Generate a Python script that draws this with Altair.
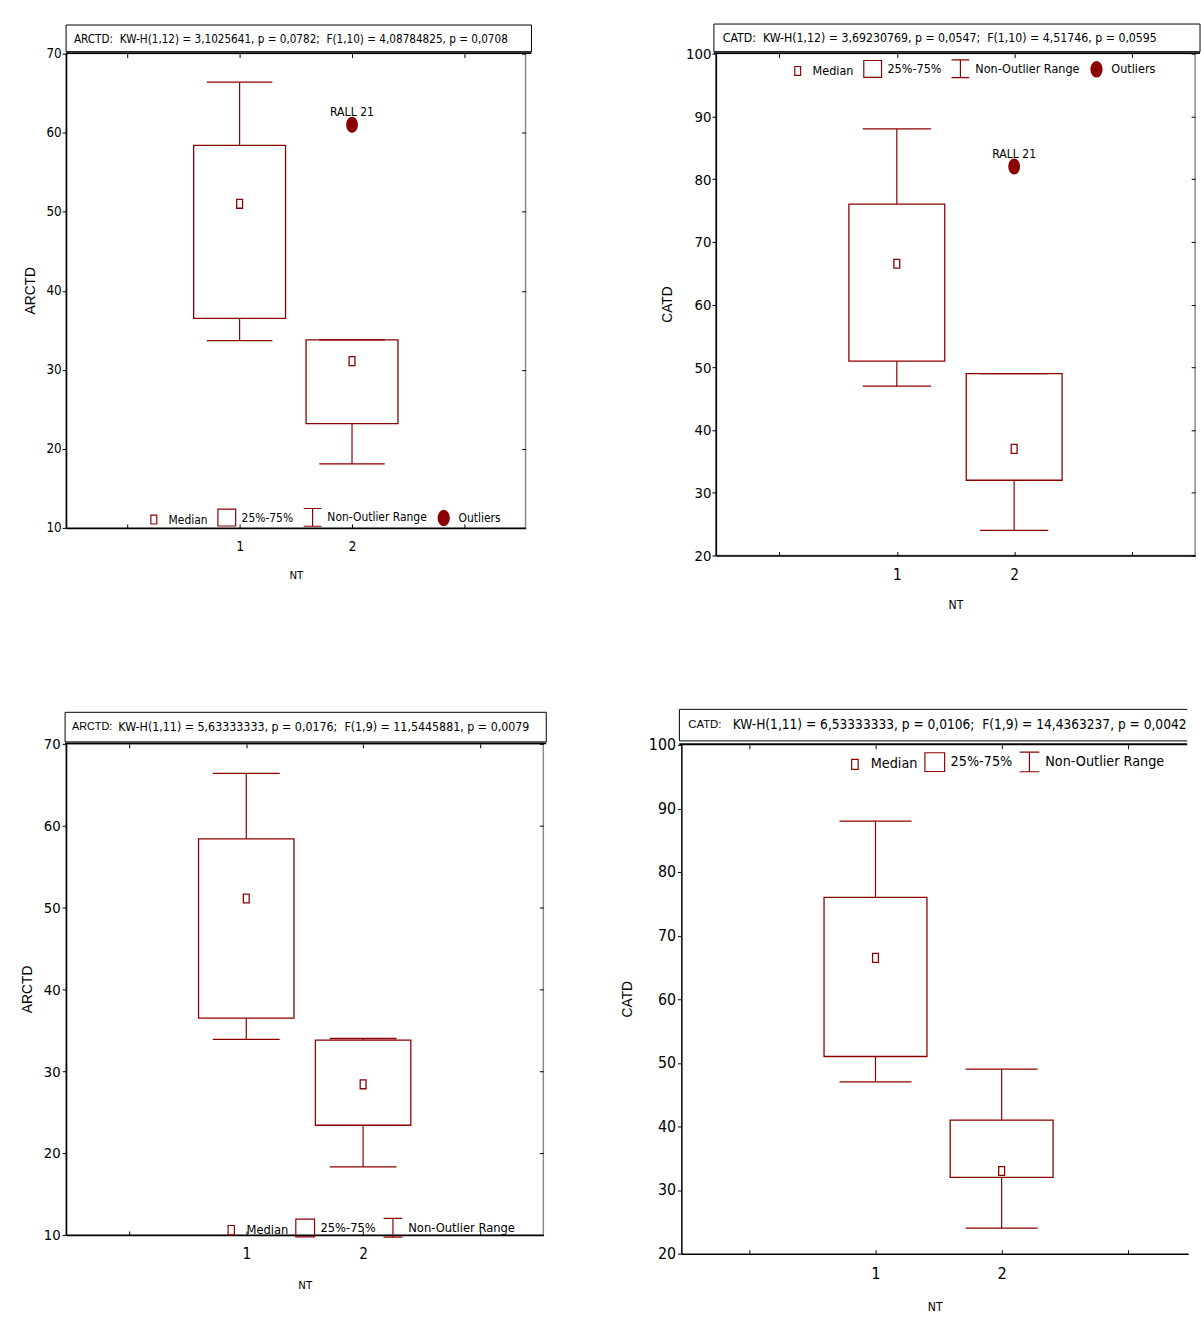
import math

import altair as alt
import pandas as pd

# ---------------------------------------------------------------- data
NT = [1, 2]

# ARCTD by NT, 12 observations (RALL 21 flagged as outlier)
ARCTD12_LOW = [33.7, 18.1]
ARCTD12_Q1 = [36.5, 23.2]
ARCTD12_MED = [51.0, 31.1]
ARCTD12_Q3 = [58.4, 33.8]
ARCTD12_HIGH = [66.4, 33.8]
ARCTD12_OUT_NT = [2]
ARCTD12_OUT_VAL = [61.0]
ARCTD12_OUT_LABEL = ["RALL 21"]

# CATD by NT, 12 observations
CATD12_LOW = [47.0, 24.0]
CATD12_Q1 = [51.0, 32.0]
CATD12_MED = [66.5, 37.0]
CATD12_Q3 = [76.0, 49.0]
CATD12_HIGH = [88.0, 49.0]
CATD12_OUT_NT = [2]
CATD12_OUT_VAL = [82.0]
CATD12_OUT_LABEL = ["RALL 21"]

# ARCTD by NT, 11 observations
ARCTD11_LOW = [33.9, 18.3]
ARCTD11_Q1 = [36.5, 23.4]
ARCTD11_MED = [51.1, 28.4]
ARCTD11_Q3 = [58.4, 33.8]
ARCTD11_HIGH = [66.4, 34.0]

# CATD by NT, 11 observations
CATD11_LOW = [47.0, 24.0]
CATD11_Q1 = [51.0, 32.0]
CATD11_MED = [66.5, 33.0]
CATD11_Q3 = [76.0, 41.0]
CATD11_HIGH = [88.0, 49.0]

NB = "\u00a0"
HEAD_ARCTD12 = f"ARCTD:{NB}{NB}KW-H(1,12) = 3,1025641, p = 0,0782;{NB}{NB}F(1,10) = 4,08784825, p = 0,0708"
HEAD_CATD12 = f"CATD:{NB}{NB}KW-H(1,12) = 3,69230769, p = 0,0547;{NB}{NB}F(1,10) = 4,51746, p = 0,0595"
HEAD_ARCTD11 = ["ARCTD:", f"KW-H(1,11) = 5,63333333, p = 0,0176;{NB}{NB}F(1,9) = 11,5445881, p = 0,0079"]
HEAD_CATD11 = ["CATD:", f"KW-H(1,11) = 6,53333333, p = 0,0106;{NB}{NB}F(1,9) = 14,4363237, p = 0,0042"]

LEGEND_FULL = ["Median", "25%-75%", "Non-Outlier Range", "Outliers"]
LEGEND_SHORT = ["Median", "25%-75%", "Non-Outlier Range"]

# ---------------------------------------------------------------- style
RED = "#8b0000"
NARROW = "Liberation Sans Narrow, Arial Narrow, DejaVu Sans Condensed, sans-serif"
PLAIN = "Liberation Sans, Arial, sans-serif"


def ellipse_path(rx, ry, n=28, rings=1):
    # polygonal ellipse; several shrinking rings give a solid-looking stroked dot
    parts = []
    for r in range(rings):
        k = 1 - r / rings
        pts = [(rx * k * math.sin(2 * math.pi * i / n), -ry * k * math.cos(2 * math.pi * i / n))
               for i in range(n)]
        parts.append("M" + "L".join(f"{x:.3f},{y:.3f}" for x, y in pts) + "Z")
    return "".join(parts)


MEDIAN_PATH = "M-0.33,-0.5H0.33V0.5H-0.33Z"
BOX_PATH = "M-1,-0.95H1V0.95H-1Z"
WHISKER_PATH = "M-1,-1H1M0,-1V1M-1,1H1"
OUTLIER_PATH = ellipse_path(0.66, 0.9)
SYMBOL_PATHS = [MEDIAN_PATH, BOX_PATH, WHISKER_PATH, ellipse_path(0.62, 0.86, 20, 8)]

ONE_ROW = alt.Data(values=[{}])


def deco():
    return alt.Chart(ONE_ROW)


def panel(low, q1, med, q3, high, outliers, ytitle, ydom, yticks, header, legend_items, g):
    w, h = g["w"], g["h"]
    unit = w / (g["xmax"] + 0.5)
    open_right = g.get("open_right", False)
    df = pd.DataFrame({"NT": NT, "low": low, "q1": q1, "med": med, "q3": q3, "high": high})
    xs = alt.Scale(domain=[-0.5, g["xmax"]], nice=False, zero=False)
    ys = alt.Scale(domain=ydom, nice=False, zero=False)
    base = alt.Chart(df)

    ax_bottom = alt.Axis(
        orient="bottom", values=[1, 2], format="d", ticks=False, grid=False,
        domain=True, domainColor="black", domainWidth=1.5,
        labelFont=NARROW, labelFontSize=g["xlab"], labelColor="black", labelPadding=g["xpad"],
        title="NT", titleFont=NARROW, titleFontSize=g["xtit"], titleFontWeight="normal",
        titleColor="black", titlePadding=g["xtpad"],
    )
    ax_left = alt.Axis(
        orient="left", values=yticks, format="d", grid=False,
        domain=True, domainColor="black", domainWidth=1.5,
        ticks=True, tickSize=4, tickColor="black", tickWidth=1,
        labelFont=NARROW, labelFontSize=g["ylab"], labelColor="black", labelPadding=g["ypad"],
        title=None,
    )
    # inward ticks along the top and right frame edges, and upward ticks on the bottom edge
    ax_top_in = alt.Axis(orient="bottom", offset=-h, values=[0, 1, 2, 3], labels=False,
                         domain=False, grid=False, tickSize=4, tickColor="black", title=None)
    ax_right_in = alt.Axis(orient="left", offset=-w, values=yticks, labels=False,
                           domain=False, grid=False, tickSize=4, tickColor="black", title=None)
    ax_bottom_in = alt.Axis(orient="top", offset=-h, values=[0, 1, 2, 3], labels=False,
                            domain=False, grid=False, tickSize=4, tickColor="black", title=None)

    layers = []

    # invisible cell frame that fixes the panel footprint in the page
    layers.append(deco().mark_rect(opacity=0).encode(
        x=alt.value(-g["L"]), x2=alt.value(w + g["R"]),
        y=alt.value(-g["T"]), y2=alt.value(h + g["B"])))

    whisk = base.mark_rule(color=RED, strokeWidth=1.2).encode(
        x=alt.X("NT:Q", scale=xs, axis=ax_top_in),
        y=alt.Y("low:Q", scale=ys, axis=None if open_right else ax_right_in), y2="high:Q")
    box = base.mark_bar(size=0.8 * unit, fill="white", stroke=RED, strokeWidth=1.3).encode(
        x=alt.X("NT:Q", scale=xs, axis=ax_bottom),
        y=alt.Y("q1:Q", scale=ys, axis=ax_left), y2="q3:Q")
    caps = base.transform_fold(["low", "high"], as_=["k", "v"]).mark_tick(
        orient="horizontal", size=g["cap"] * unit, thickness=1.3, color=RED, opacity=1).encode(
        x=alt.X("NT:Q", scale=xs, axis=ax_bottom_in),
        y=alt.Y("v:Q", scale=ys, axis=None))
    meds = base.mark_point(shape=MEDIAN_PATH, size=324, filled=False, stroke=RED,
                           strokeWidth=1.3, opacity=1).encode(
        x=alt.X("NT:Q", scale=xs, axis=None),
        y=alt.Y("med:Q", scale=ys, axis=None))
    layers += [whisk, box, caps, meds]

    # vertical variable name left of the value axis
    layers.append(deco().mark_text(angle=270, align="center", baseline="middle", font=PLAIN,
                                   fontSize=14, color="black").encode(
        x=alt.value(-g["ytx"]), y=alt.value(h / 2), text=alt.value(ytitle)))

    if outliers is not None:
        odf = pd.DataFrame({"NT": outliers[0], "v": outliers[1], "lab": outliers[2]})
        ob = alt.Chart(odf)
        layers.append(ob.mark_point(shape=OUTLIER_PATH, size=324, filled=True, color=RED,
                                    opacity=1).encode(
            x=alt.X("NT:Q", scale=xs, axis=None),
            y=alt.Y("v:Q", scale=ys, axis=None)))
        layers.append(ob.mark_text(font=NARROW, fontSize=g["olab"], baseline="bottom",
                                   dy=-6, color="black").encode(
            x=alt.X("NT:Q", scale=xs, axis=None),
            y=alt.Y("v:Q", scale=ys, axis=None), text="lab:N"))

    # legend: symbols come from a shape scale; the carrier points sit outside the clipped area
    n = len(legend_items)
    ldf = pd.DataFrame({"item": legend_items, "NT": [-10.0] * n, "v": [-1000.0] * n})
    leg = alt.Legend(
        orient="none", legendX=g["lx"], legendY=g["ly"], direction="horizontal", title=None,
        symbolSize=g["ls"] ** 2, symbolStrokeWidth=1.2, symbolOpacity=1,
        labelFont=NARROW, labelFontSize=g["lf"], labelColor="black", labelOffset=5,
        columnPadding=g["lcp"], padding=0, labelLimit=400,
    )
    layers.append(alt.Chart(ldf).mark_point(clip=True, filled=False, stroke=RED,
                                            strokeWidth=1.2, opacity=1).encode(
        x=alt.X("NT:Q", scale=xs, axis=None),
        y=alt.Y("v:Q", scale=ys, axis=None),
        shape=alt.Shape("item:N", scale=alt.Scale(domain=legend_items, range=SYMBOL_PATHS[:n]),
                        legend=leg),
    ))

    # statistics header box above the plot
    hx0, hx1, hy0, hy1 = g["hbox"]
    if open_right:
        layers.append(deco().mark_rect(fill="white").encode(
            x=alt.value(hx0), x2=alt.value(w + hx1), y=alt.value(hy0), y2=alt.value(hy1)))
        layers.append(deco().mark_rule(color="black", strokeWidth=1).encode(
            x=alt.value(hx0), x2=alt.value(w + hx1), y=alt.value(hy0)))
        layers.append(deco().mark_rule(color="black", strokeWidth=1).encode(
            x=alt.value(hx0), y=alt.value(hy0), y2=alt.value(hy1)))
        layers.append(deco().mark_rule(color="black", strokeWidth=1).encode(
            x=alt.value(hx0), x2=alt.value(w + hx1), y=alt.value(hy1)))
    else:
        layers.append(deco().mark_rect(fill="white", stroke="black", strokeWidth=1).encode(
            x=alt.value(hx0), x2=alt.value(w + hx1), y=alt.value(hy0), y2=alt.value(hy1)))
    layers.append(deco().mark_rule(color="black", strokeWidth=2).encode(
        x=alt.value(min(hx0, 0)), x2=alt.value(w + hx1), y=alt.value(-0.5)))
    for txt, tx, size, font in header:
        layers.append(deco().mark_text(align="left", baseline="middle", font=font,
                                       fontSize=size, color="black").encode(
            x=alt.value(tx), y=alt.value(g["hty"]), text=alt.value(txt)))

    props = dict(width=w, height=h)
    if open_right:
        props["view"] = alt.ViewBackground(strokeOpacity=0)
    return alt.layer(*layers).resolve_axis(x="independent", y="independent").properties(**props)


GEO_TL = dict(w=466, h=481, L=52, R=91, T=41, B=128, xmax=3.5, cap=0.57,
              xlab=14, xpad=12, xtit=11.5, xtpad=16, ylab=13.5, ypad=1, ytx=36,
              olab=12.3, lx=79, ly=460, ls=18, lf=12.1, lcp=7,
              hbox=(0, 6, -29, -2), hty=-15)
GEO_TR = dict(w=486, h=509, L=100, R=6, T=44, B=97, xmax=3.5, cap=0.57,
              xlab=15.5, xpad=12, xtit=12.3, xtpad=16, ylab=15, ypad=1, ytx=48,
              olab=12.3, lx=73, ly=5, ls=18, lf=12.7, lcp=7,
              hbox=(-2, 5, -30, -2), hty=-16)
GEO_BL = dict(w=484, h=498, L=66, R=70, T=89, B=82, xmax=3.5, cap=0.56,
              xlab=15.5, xpad=12, xtit=11.5, xtpad=18, ylab=15, ypad=2, ytx=39,
              olab=12.3, lx=157, ly=480, ls=19, lf=13, lcp=4,
              hbox=(-1, 3, -32, -2), hty=-17)
GEO_BR = dict(w=514, h=516, L=66, R=0, T=91, B=62, xmax=3.44, cap=0.56,
              xlab=16.5, xpad=12, xtit=12.3, xtpad=19, ylab=16, ypad=2, ytx=54,
              olab=12.3, lx=165, ly=6, ls=20, lf=14.5, lcp=4,
              hbox=(-2, -1, -36, -4), hty=-20, open_right=True)

tl = panel(ARCTD12_LOW, ARCTD12_Q1, ARCTD12_MED, ARCTD12_Q3, ARCTD12_HIGH,
           (ARCTD12_OUT_NT, ARCTD12_OUT_VAL, ARCTD12_OUT_LABEL),
           "ARCTD", [10, 70], list(range(10, 71, 10)),
           [(HEAD_ARCTD12, 8, 11.8, NARROW)], LEGEND_FULL, GEO_TL)
tr = panel(CATD12_LOW, CATD12_Q1, CATD12_MED, CATD12_Q3, CATD12_HIGH,
           (CATD12_OUT_NT, CATD12_OUT_VAL, CATD12_OUT_LABEL),
           "CATD", [20, 100], list(range(20, 101, 10)),
           [(HEAD_CATD12, 7, 12.4, NARROW)], LEGEND_FULL, GEO_TR)
bl = panel(ARCTD11_LOW, ARCTD11_Q1, ARCTD11_MED, ARCTD11_Q3, ARCTD11_HIGH, None,
           "ARCTD", [10, 70], list(range(10, 71, 10)),
           [(HEAD_ARCTD11[0], 6, 11, PLAIN), (HEAD_ARCTD11[1], 53, 12.5, NARROW)],
           LEGEND_SHORT, GEO_BL)
br = panel(CATD11_LOW, CATD11_Q1, CATD11_MED, CATD11_Q3, CATD11_HIGH, None,
           "CATD", [20, 100], list(range(20, 101, 10)),
           [(HEAD_CATD11[0], 7, 11.5, PLAIN), (HEAD_CATD11[1], 52, 13.8, NARROW)],
           LEGEND_SHORT, GEO_BR)

# 2 x 2 grid packed by each panel's full footprint
chart = (
    alt.concat(tl, tr, bl, br, columns=2, spacing=0, align="none", bounds="full")
    .resolve_scale(shape="independent")
    .resolve_legend(shape="independent")
    .properties(padding=0, background="white")
    .configure_view(stroke="#8a8a8a", strokeWidth=1.5)
)

chart.save("out.html", embed_options={"renderer": "svg", "actions": False})
